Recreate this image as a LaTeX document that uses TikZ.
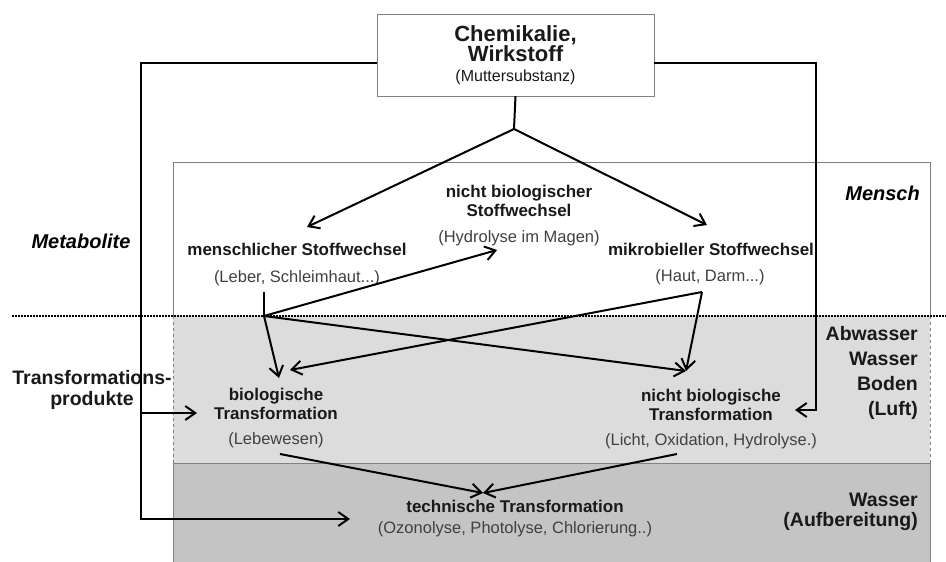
\documentclass[tikz,border=0pt]{standalone}
\usepackage{fontspec}
\setmainfont{Liberation Sans}
\usepackage{tikz}
\usetikzlibrary{arrows.meta}
\definecolor{hellgrau}{HTML}{DCDCDC}
\definecolor{dunkelgrau}{HTML}{C4C4C4}

\begin{document}
\begin{tikzpicture}[x=1pt, y=-1pt,
			 titulo/.style={font=\bfseries\fontsize{17}{18.5}\selectfont, align=center, inner sep=0pt, text=black!90},
			 detalle/.style={font=\fontsize{16.5}{19}\selectfont, inner sep=0pt, text=black!75},
			 zona/.style={font=\bfseries\fontsize{19.5}{25}\selectfont, align=right, inner sep=0pt, anchor=east, text=black!90},
			 flecha/.style={-{Straight Barb[length=10pt, width=14pt]}, line width=2pt},
			 linea/.style={line width=2pt}
  		]
	\useasboundingbox (0,0) rectangle (946,562);

	%Fondos
		\draw[gray, fill=white] (173,162) rectangle (930,316);
		\fill[hellgrau] (173,316) rectangle (930,463);
		\draw[gray, dashed] (173,316) -- (173,463) (930,316) -- (930,463);
		\fill[dunkelgrau] (173,463) rectangle (930,562);
		\draw[gray] (173,562) -- (173,463) -- (930,463) -- (930,562);
		\draw[line width=2pt, dash pattern=on 2pt off 1pt] (12,316) -- (946,316);

	%Sustancia madre
		\node[draw=gray, fill=white, minimum width=277, minimum height=82, align=center,
			font=\bfseries\fontsize{22}{20}\selectfont, text=black!90] (chem) at (515.5,55)
			{Chemikalie,\\Wirkstoff\\{\normalfont\fontsize{16}{18}\selectfont (Muttersubstanz)}};

	%Textos de las zonas
		\node[font=\bfseries\itshape\fontsize{20}{22}\selectfont, inner sep=0pt] (metab) at (81,241) {Metabolite};
		\node[font=\bfseries\itshape\fontsize{20}{22}\selectfont, inner sep=0pt, anchor=east] (mensch) at (920,193) {Mensch};
		\node[zona, align=center, anchor=center, font=\bfseries\fontsize{19.5}{21}\selectfont] (tp) at (92,390) {Transformations-\\produkte};
		\node[zona] (abw) at (918,373) {Abwasser\\Wasser\\Boden\\(Luft)};
		\node[zona, font=\bfseries\fontsize{19.5}{19.5}\selectfont] (wass) at (918,512) {Wasser\\(Aufbereitung)};

	%Stoffwechsel
		\node[titulo] (ms) at (297,249) {menschlicher Stoffwechsel};
		\node[detalle] (msd) at (297,278) {(Leber, Schleimhaut...)};
		\node[titulo] (nbs) at (519,201) {nicht biologischer\\Stoffwechsel};
		\node[detalle] (nbsd) at (519,238) {(Hydrolyse im Magen)};
		\node[titulo] (mik) at (711,249) {mikrobieller Stoffwechsel};
		\node[detalle] (mikd) at (710,277) {(Haut, Darm...)};

	%Transformationen
		\node[titulo] (bt) at (276,404) {biologische\\Transformation};
		\node[detalle] (btd) at (276,440) {(Lebewesen)};
		\node[titulo] (nbt) at (711,405) {nicht biologische\\Transformation};
		\node[detalle] (nbtd) at (711,441) {(Licht, Oxidation, Hydrolyse.)};
		\node[titulo] (tt) at (515,506) {technische Transformation};
		\node[detalle] (ttd) at (515,529) {(Ozonolyse, Photolyse, Chlorierung..)};

	%Puntos de las flechas
		\coordinate (j) at (514,129);
		\coordinate (msin) at (307,227);
		\coordinate (mikin) at (707,225);
		\coordinate (mo) at (264,292);
		\coordinate (mj) at (264,316);
		\coordinate (mk) at (702,292);
		\coordinate (nbsin) at (497,250);
		\coordinate (btin) at (279,378);
		\coordinate (btin2) at (290,370);
		\coordinate (nbtin) at (686,371);
		\coordinate (btout) at (280,454);
		\coordinate (nbtout) at (677,454);
		\coordinate (ttin) at (483,493);
		\coordinate (ll) at (141,519);
		\coordinate (lb) at (141,413);
		\coordinate (btl) at (197,413);
		\coordinate (ttl) at (350,519);
		\coordinate (rr) at (816,410);
		\coordinate (nbtr) at (795,410);

	%Desde la sustancia madre
		\draw[linea] (chem.south) -- (j);
		\draw[flecha] (j) -- (msin);
		\draw[flecha] (j) -- (mikin);
		\draw[flecha] ([yshift=-8pt]chem.west) -| (ll) -- (ttl);
		\draw[flecha] (lb) -- (btl);
		\draw[flecha] ([yshift=-8pt]chem.east) -| (rr) -- (nbtr);
	%Desde el metabolismo humano
		\draw[linea] (mo) -- (mj);
		\draw[flecha] (mj) -- (nbsin);
		\draw[flecha] (mj) -- (btin);
		\draw[flecha] (mj) -- (nbtin);
	%Desde el metabolismo microbiano
		\draw[flecha] (mk) -- (btin2);
		\draw[flecha] (mk) -- (nbtin);
	%Hacia la transformacion tecnica
		\draw[flecha] (btout) -- (ttin);
		\draw[flecha] (nbtout) -- (ttin);
	\end{tikzpicture}
\end{document}
